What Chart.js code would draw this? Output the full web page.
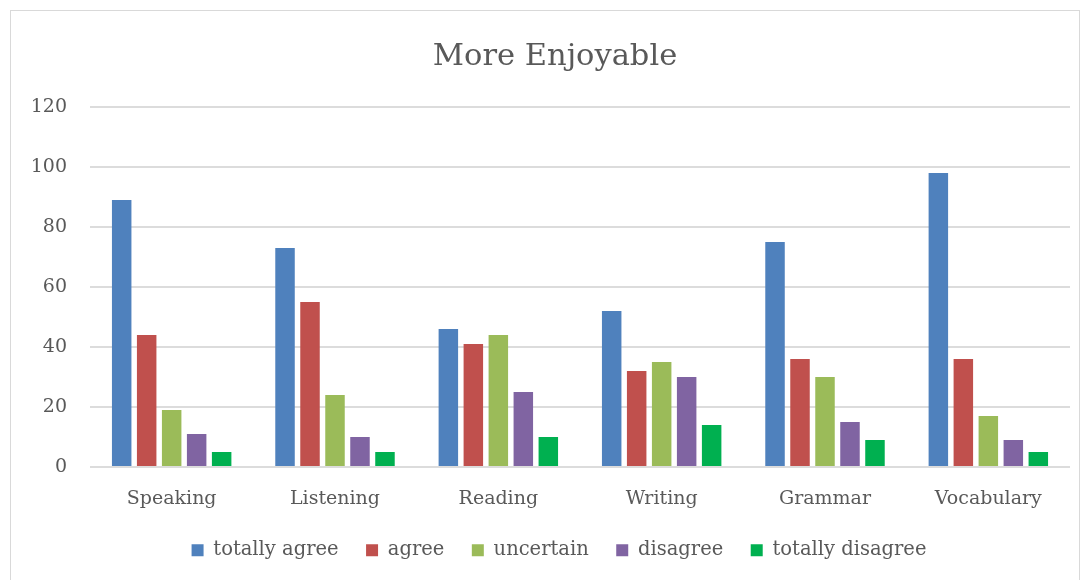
<!DOCTYPE html>
<html>
<head>
<meta charset="utf-8">
<script src="https://cdn.jsdelivr.net/npm/chart.js@4.4.0/dist/chart.umd.min.js"></script>
<style>
  html, body { margin: 0; padding: 0; background: #ffffff; }
  #wrap { position: relative; width: 1087px; height: 580px; }
</style>
</head>
<body>
<div id="wrap"><canvas id="c" width="1087" height="580"></canvas></div>
<script>
const categories = ["Speaking", "Listening", "Reading", "Writing", "Grammar", "Vocabulary"];
const totallyAgree = [89, 73, 46, 52, 75, 98];
const agree = [44, 55, 41, 32, 36, 36];
const uncertain = [19, 24, 44, 35, 30, 17];
const disagree = [11, 10, 25, 30, 15, 9];
const totallyDisagree = [5, 5, 10, 14, 9, 5];
const yTicks = [0, 20, 40, 60, 80, 100, 120];
const titleText = "More Enjoyable";

const FONT = "'DejaVu Serif', serif";
const TEXT = "#595959";

const borderPlugin = {
  id: 'outerBorder',
  afterLayout(chart) {
    // centre title and legend on the plot area, as in the reference
    if (chart.titleBlock) { chart.titleBlock.left += 20; chart.titleBlock.right += 20; }
    if (chart.legend) { chart.legend.left += 24; chart.legend.right += 24; }
  },
  beforeDraw(chart) {
    const ctx = chart.ctx;
    ctx.save();
    ctx.fillStyle = '#ffffff';
    ctx.fillRect(0, 0, chart.width, chart.height);
    ctx.strokeStyle = '#d9d9d9';
    ctx.lineWidth = 1;
    ctx.strokeRect(10.5, 10.5, 1069, 600);
    ctx.restore();
  }
};

function ds(label, data, color) {
  return {
    label, data,
    backgroundColor: color,
    borderWidth: 0,
    categoryPercentage: 0.765,
    barPercentage: 0.78
  };
}

new Chart(document.getElementById('c'), {
  type: 'bar',
  data: {
    labels: categories,
    datasets: [
      ds("totally agree", totallyAgree, "#4F81BD"),
      ds("agree", agree, "#C0504D"),
      ds("uncertain", uncertain, "#9BBB59"),
      ds("disagree", disagree, "#8064A2"),
      ds("totally disagree", totallyDisagree, "#00B050")
    ]
  },
  plugins: [borderPlugin],
  options: {
    responsive: false,
    animation: false,
    layout: { padding: { left: 0, right: 17, top: 10, bottom: 10 } },
    plugins: {
      title: {
        display: true,
        text: titleText,
        color: TEXT,
        font: { family: FONT, size: 30.5, weight: 'normal' },
        padding: { top: 29, bottom: 31.5 }
      },
      legend: {
        position: 'bottom',
        labels: {
          color: TEXT,
          font: { family: FONT, size: 19.5 },
          boxWidth: 12,
          boxHeight: 12,
          padding: 27.5
        }
      },
      tooltip: { enabled: false }
    },
    scales: {
      x: {
        grid: { display: false, drawTicks: false },
        border: { display: false },
        ticks: { color: TEXT, font: { family: FONT, size: 19 }, padding: 21 },
        afterFit(scale) { scale.height = 46; }
      },
      y: {
        min: 0, max: 120,
        afterBuildTicks(scale) { scale.ticks = yTicks.map(v => ({ value: v })); },
        grid: { color: '#dcdcdc', lineWidth: 2, drawTicks: false },
        border: { display: false },
        ticks: { color: TEXT, font: { family: FONT, size: 19 }, padding: 23 },
        afterFit(scale) { scale.width = 90; }
      }
    }
  }
});
</script>
</body>
</html>
